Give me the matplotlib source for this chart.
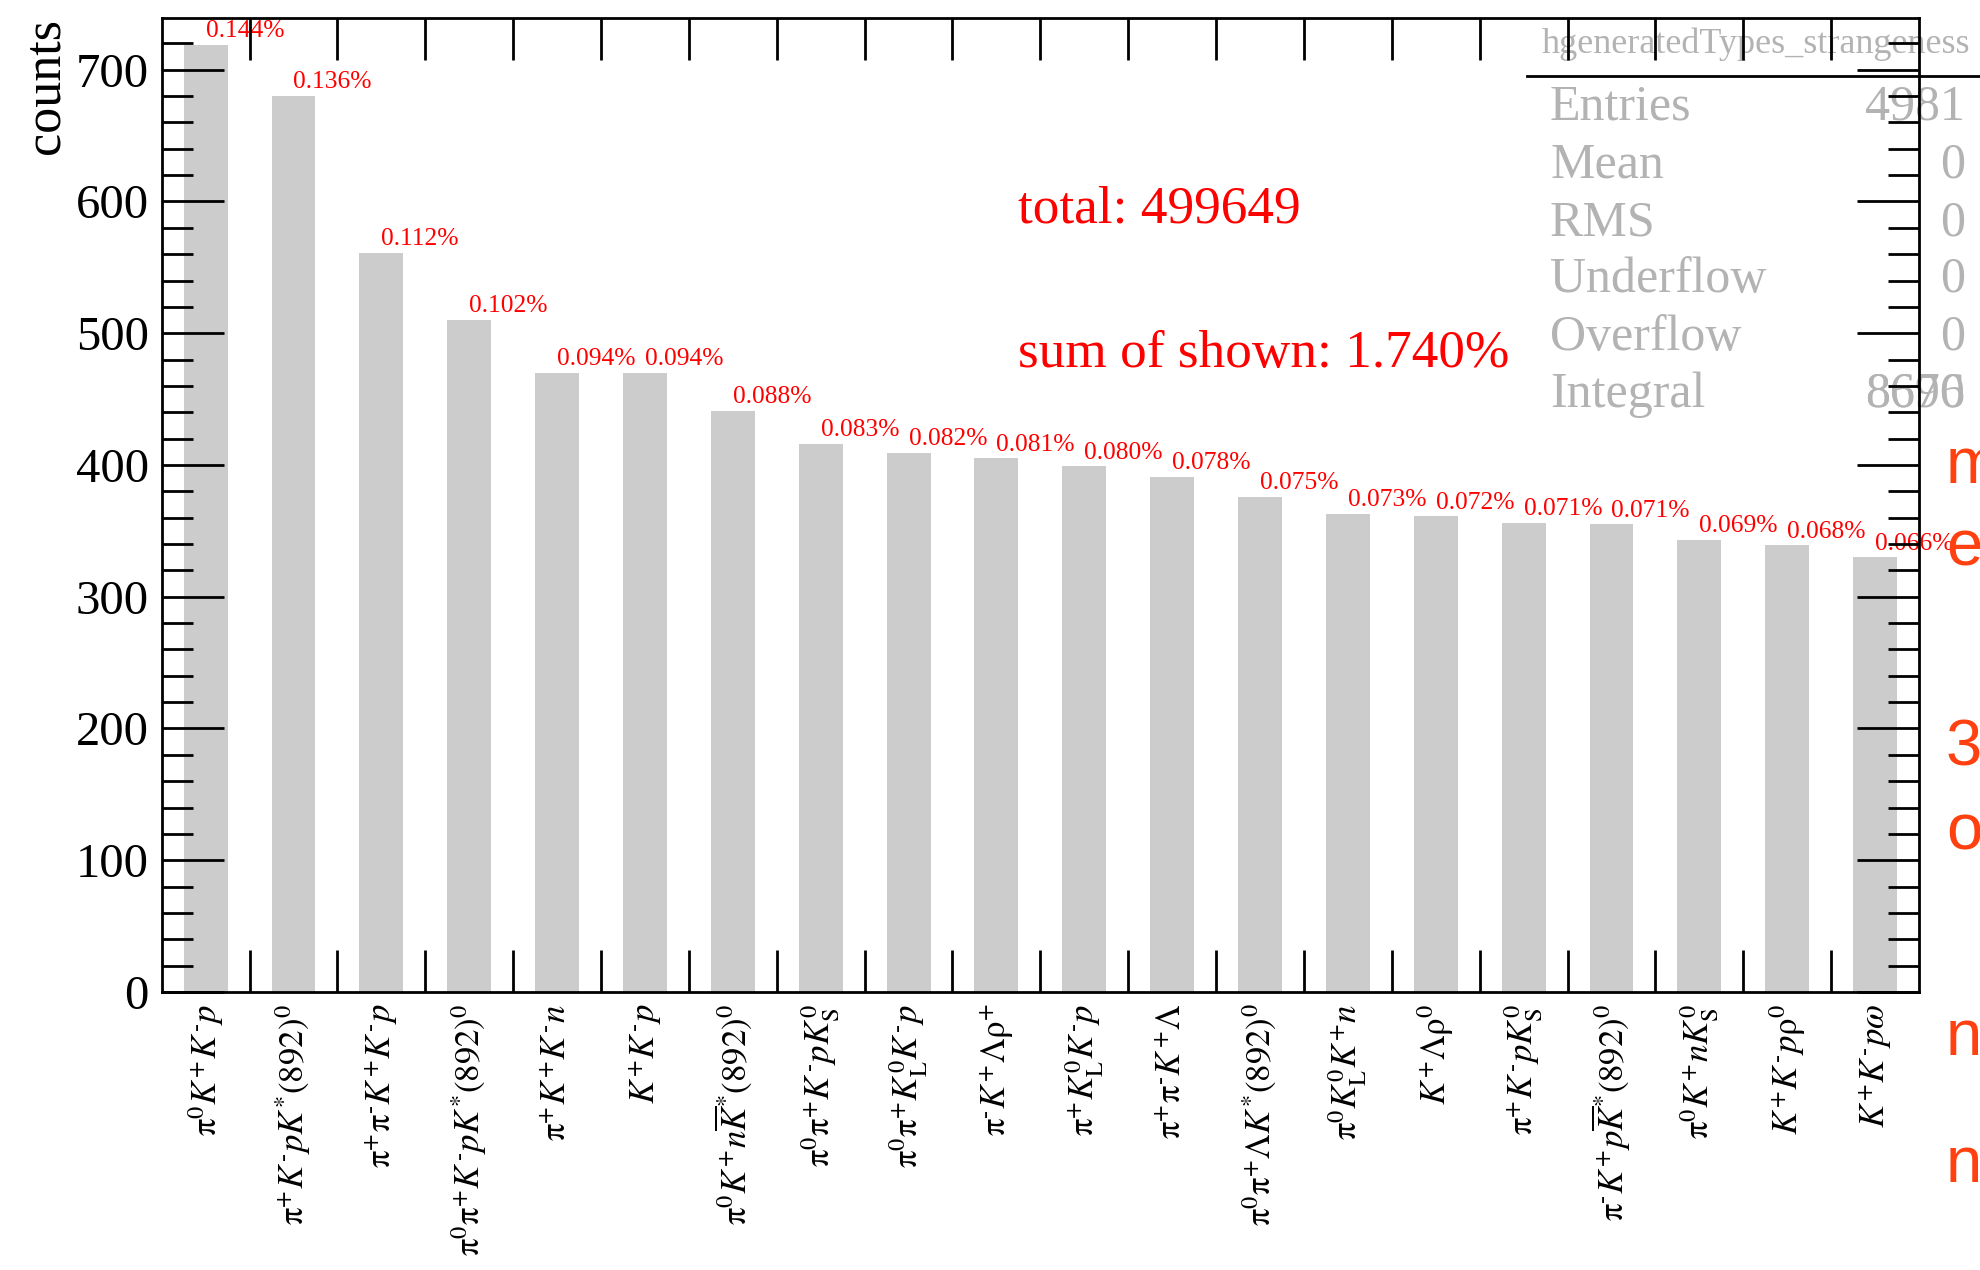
import matplotlib
matplotlib.use("Agg")
import matplotlib.pyplot as plt
from matplotlib.lines import Line2D
from matplotlib.ticker import MultipleLocator, FixedLocator, NullFormatter, FixedFormatter

plt.rcParams['font.family'] = ['Liberation Serif', 'DejaVu Serif']
plt.rcParams['mathtext.fontset'] = 'stix'

# Final-state channels (bin labels), sorted by yield
channels = [
    r'$\mathrm{π}^{0}K^{+}K^{\mathrm{‐}}p$',
    r'$\mathrm{π}^{+}K^{\mathrm{‐}}pK^{*}(892)^{0}$',
    r'$\mathrm{π}^{+}\mathrm{π}^{\mathrm{‐}}K^{+}K^{\mathrm{‐}}p$',
    r'$\mathrm{π}^{0}\mathrm{π}^{+}K^{\mathrm{‐}}pK^{*}(892)^{0}$',
    r'$\mathrm{π}^{+}K^{+}K^{\mathrm{‐}}n$',
    r'$K^{+}K^{\mathrm{‐}}p$',
    r'$\mathrm{π}^{0}K^{+}n\overline{K}^{*}(892)^{0}$',
    r'$\mathrm{π}^{0}\mathrm{π}^{+}K^{\mathrm{‐}}pK^{0}_{\mathrm{S}}$',
    r'$\mathrm{π}^{0}\mathrm{π}^{+}K^{0}_{\mathrm{L}}K^{\mathrm{‐}}p$',
    r'$\mathrm{π}^{\mathrm{‐}}K^{+}\mathrm{Λρ}^{+}$',
    r'$\mathrm{π}^{+}K^{0}_{\mathrm{L}}K^{\mathrm{‐}}p$',
    r'$\mathrm{π}^{+}\mathrm{π}^{\mathrm{‐}}K^{+}\mathrm{Λ}$',
    r'$\mathrm{π}^{0}\mathrm{π}^{+}\mathrm{Λ}K^{*}(892)^{0}$',
    r'$\mathrm{π}^{0}K^{0}_{\mathrm{L}}K^{+}n$',
    r'$K^{+}\mathrm{Λρ}^{0}$',
    r'$\mathrm{π}^{+}K^{\mathrm{‐}}pK^{0}_{\mathrm{S}}$',
    r'$\mathrm{π}^{\mathrm{‐}}K^{+}p\overline{K}^{*}(892)^{0}$',
    r'$\mathrm{π}^{0}K^{+}nK^{0}_{\mathrm{S}}$',
    r'$K^{+}K^{\mathrm{‐}}p\mathrm{ρ}^{0}$',
    r'$K^{+}K^{\mathrm{‐}}p\omega$',
]
counts = [719, 680, 561, 510, 470, 470, 441, 416, 409, 405,
          399, 391, 376, 363, 361, 356, 355, 343, 339, 330]
total_events = 499649

stats_names = ['Entries', 'Mean', 'RMS', 'Underflow', 'Overflow', 'Integral']
stats_values = ['4981', '0', '0', '0', '0', '8696']
integral_overdraw = '8670'
hist_name = 'hgeneratedTypes_strangeness'

side_letters = ['m', 'e', '3', 'o', 'n', 'n']
side_baselines_px = [483, 566, 765, 850, 1055, 1182]

W, H = 1981, 1270
fig = plt.figure(figsize=(W / 100, H / 100), dpi=100)
ax = fig.add_axes([161.7 / W, 1 - 992 / H, (1919 - 161.7) / W, (992 - 17.7) / H])

centers = [i + 0.5 for i in range(len(counts))]
ax.bar(centers, counts, width=0.5, color='#cccccc', linewidth=0, zorder=1)
ax.set_xlim(0, len(counts))
ax.set_ylim(0, 739.5)

for s in ax.spines.values():
    s.set_linewidth(2.0)

ax.xaxis.set_major_locator(FixedLocator(range(1, len(counts))))
ax.xaxis.set_major_formatter(NullFormatter())
ax.xaxis.set_minor_locator(FixedLocator(centers))
ax.xaxis.set_minor_formatter(FixedFormatter(channels))
ax.tick_params(axis='x', which='major', direction='in', length=30, width=2,
               top=True, bottom=True)
ax.tick_params(axis='x', which='minor', length=0, pad=8.5, labelsize=25,
               labelrotation=90)

ax.yaxis.set_major_locator(MultipleLocator(100))
ax.yaxis.set_minor_locator(MultipleLocator(20))
ax.tick_params(axis='y', which='major', direction='in', length=44.6, width=2,
               left=True, right=True, labelsize=35, pad=9.4)
ax.tick_params(axis='y', which='minor', direction='in', length=22.3, width=2,
               left=True, right=True)

fig.text(59 / W, 1 - 17.7 / H, 'counts', rotation=90, rotation_mode='anchor',
         ha='right', va='baseline', fontsize=37.5)

# percentage of all events above each bar
for x, c in zip(centers, counts):
    ax.annotate(f'{100 * c / total_events:.3f}%', (x, c), xytext=(0, 5.5),
                textcoords='offset points', ha='left', va='baseline',
                color='red', fontsize=18.4, annotation_clip=False, zorder=1.2)

shown_pct = 100 * sum(counts) / total_events
fig.text(1018 / W, 1 - 222.7 / H, f'total: {total_events}', color='red',
         fontsize=38.3, va='baseline', ha='left')
fig.text(1018 / W, 1 - 366.7 / H, f'sum of shown: {shown_pct:.3f}%', color='red',
         fontsize=38.3, va='baseline', ha='left')

# statistics box
gray = '#b3b3b3'
ftr = fig.transFigure
ax.text(1755.5 / W, 1 - 53 / H, hist_name, transform=ftr, ha='center',
        va='baseline', fontsize=26, color=gray, zorder=1, clip_on=False)
fig.add_artist(Line2D([1527 / W, 1.0], [1 - 75.7 / H, 1 - 75.7 / H],
                      color='black', lw=2.0))
row_baselines = [119, 177, 235, 292, 350, 407]
for name, val, yb in zip(stats_names, stats_values, row_baselines):
    ax.text(1550 / W, 1 - yb / H, name, transform=ftr, ha='left', va='baseline',
            fontsize=36, color=gray, zorder=1, clip_on=False)
    ax.text(1965 / W, 1 - yb / H, val, transform=ftr, ha='right', va='baseline',
            fontsize=36, color=gray, zorder=1, clip_on=False)
ax.text(1965 / W, 1 - row_baselines[-1] / H, integral_overdraw, transform=ftr,
        ha='right', va='baseline', fontsize=36, color=gray, zorder=1, clip_on=False)

# text running off the right edge
for ch, yb in zip(side_letters, side_baselines_px):
    fig.text(1946 / W, 1 - yb / H, ch, family='Liberation Sans', fontsize=47,
             color='#ff4111', ha='left', va='baseline')

fig.savefig('out.png', dpi=100)
